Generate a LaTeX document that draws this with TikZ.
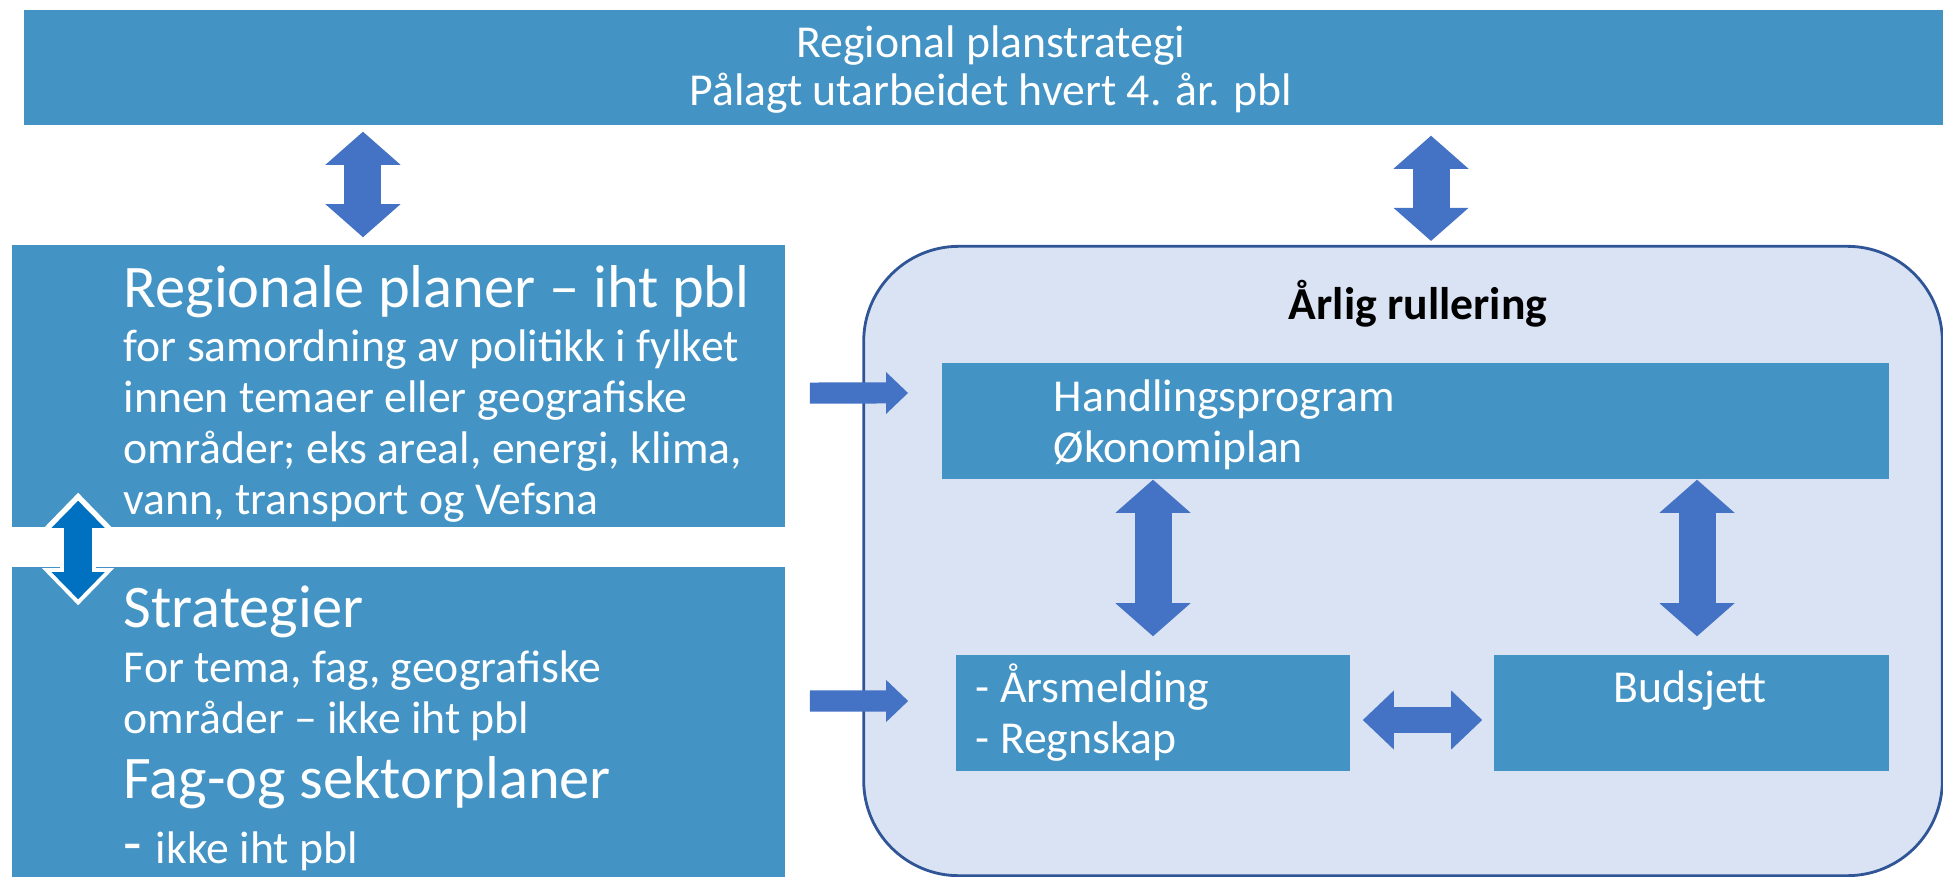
\documentclass[tikz,border=0pt]{standalone}
\usepackage{fontspec}
\setmainfont{Carlito}
\usepackage{tikz}
\usetikzlibrary{arrows.meta, positioning}
\definecolor{boxblue}{HTML}{4393C4}
\definecolor{arrowblue}{HTML}{4472C4}
\definecolor{cyclefill}{HTML}{DAE3F3}
\definecolor{cycleline}{HTML}{2F5597}
\definecolor{linkblue}{HTML}{0070C0}
\tikzstyle{planbox} = [rectangle, fill=boxblue, inner sep=0pt]
\tikzstyle{cyclebox} = [rectangle, rounded corners=0.95cm, draw=cycleline, line width=0.8pt, fill=cyclefill, inner sep=0pt]
\tikzstyle{bodytext} = [inner sep=0pt, align=left, text=white, font=\fontsize{13}{14.5}\selectfont]
\tikzstyle{headtext} = [inner sep=0pt, align=left, text=white, font=\fontsize{17.2}{18.5}\selectfont]
\tikzstyle{fatarrow} = [draw=arrowblue, line width=3.7mm, {Triangle[width=7.5mm,length=3.3mm,line width=0pt]}-{Triangle[width=7.5mm,length=3.3mm,line width=0pt]}]
\tikzstyle{sidearrow} = [draw=arrowblue, line width=2.6mm, {Triangle[width=5.9mm,length=3.1mm,line width=0pt]}-{Triangle[width=5.9mm,length=3.1mm,line width=0pt]}]
\tikzstyle{inarrow} = [draw=arrowblue, line width=2.1mm, -{Triangle[width=4.2mm,length=2.2mm,line width=0pt]}]
\tikzstyle{linkhalo} = [draw=white, line width=3.6mm, {Triangle[width=7.2mm,length=3.7mm,line width=0pt]}-{Triangle[width=7.2mm,length=3.7mm,line width=0pt]}]
\tikzstyle{linkarrow} = [draw=linkblue, line width=2.8mm, {Triangle[width=5.3mm,length=2.7mm,line width=0pt]}-{Triangle[width=5.3mm,length=2.7mm,line width=0pt]}]

\begin{document}
\begin{tikzpicture}[x=0.01cm, y=-0.01cm]
	\useasboundingbox (0,0) rectangle (1943,876);

	% boxes
	\node (plan) [planbox, minimum width=19.18cm, minimum height=1.15cm] at (984,67.5) {};
	\node (reg) [planbox, minimum width=7.73cm, minimum height=2.82cm] at (398.5,386) {};
	\node (strat) [planbox, minimum width=7.73cm, minimum height=3.10cm] at (398.5,722) {};
	\node (cycle) [cyclebox, minimum width=10.78cm, minimum height=6.29cm] at (1403,561) {};
	\node (hp) [planbox, minimum width=9.47cm, minimum height=1.16cm] at (1415.5,421) {};
	\node (ars) [planbox, minimum width=3.94cm, minimum height=1.16cm] at (1153,713) {};
	\node (bud) [planbox, minimum width=3.95cm, minimum height=1.16cm] at (1691.5,713) {};

	% texts (base = last line)
	\node (plantext) [bodytext, align=center, anchor=base, font=\fontsize{13}{13.9}\selectfont] at (991,106) {Regional planstrategi\\Pålagt utarbeidet hvert 4. år. pbl};
	\node (regtitle) [headtext, anchor=base west] at (123,307) {Regionale planer – iht pbl};
	\node (regtext) [bodytext, anchor=base west] at (123,514) {for samordning av politikk i fylket\\innen temaer eller geografiske\\områder; eks areal, energi, klima,\\vann, transport og Vefsna};
	\node (strattitle) [headtext, anchor=base west] at (123,627) {Strategier};
	\node (strattext) [bodytext, anchor=base west] at (123,733) {For tema, fag, geografiske\\områder – ikke iht pbl};
	\node (fagtitle) [headtext, anchor=base west] at (123,798) {Fag-og sektorplaner};
	\node (fagtext) [headtext, anchor=base west] at (123,863) {- {\fontsize{13}{14.5}\selectfont ikke iht pbl}};
	\node (cycletitle) [anchor=base, inner sep=0pt, font=\fontsize{13}{14.5}\selectfont\bfseries] at (1418,319) {Årlig rullering};
	\node (hptext) [bodytext, anchor=base west] at (1053,462) {Handlingsprogram\\Økonomiplan};
	\node (arstext) [bodytext, anchor=base west] at (975,753) {- Årsmelding\\- Regnskap};
	\node (budtext) [bodytext, anchor=base] at (1690,702) {Budsjett};

	% arrows
	\coordinate (regtop) at ([xshift=-0.355cm]reg.north);
	\coordinate (cyctop) at ([xshift=0.28cm]cycle.north);
	\coordinate (budtop) at ([xshift=0.055cm]bud.north);
	\draw [fatarrow, shorten <=0.07cm, shorten >=0.06cm] (regtop) -- (regtop |- plan.south);
	\draw [fatarrow, shorten <=0.04cm, shorten >=0.10cm] (cyctop) -- (cyctop |- plan.south);
	\draw [fatarrow, shorten <=0.18cm] (ars.north) -- (ars.north |- hp.south);
	\draw [fatarrow, shorten <=0.18cm] (budtop) -- (budtop |- hp.south);
	\draw [sidearrow] ([xshift=0.12cm,yshift=-0.07cm]ars.east) -- ([xshift=-0.11cm,yshift=-0.07cm]bud.west);
	\draw [inarrow] ([xshift=0.24cm,yshift=-0.07cm]reg.east) -- ([xshift=-0.33cm,yshift=0.28cm]hp.west);
	\draw [inarrow] ([xshift=0.24cm,yshift=0.21cm]strat.east) -- ([xshift=-0.47cm,yshift=0.12cm]ars.west);
	\draw [linkhalo] ([xshift=0.67cm,yshift=0.35cm]reg.south west) -- ([xshift=0.67cm,yshift=-0.39cm]strat.north west);
	\draw [linkarrow] ([xshift=0.67cm,yshift=0.27cm]reg.south west) -- ([xshift=0.67cm,yshift=-0.33cm]strat.north west);

\end{tikzpicture}
\end{document}
